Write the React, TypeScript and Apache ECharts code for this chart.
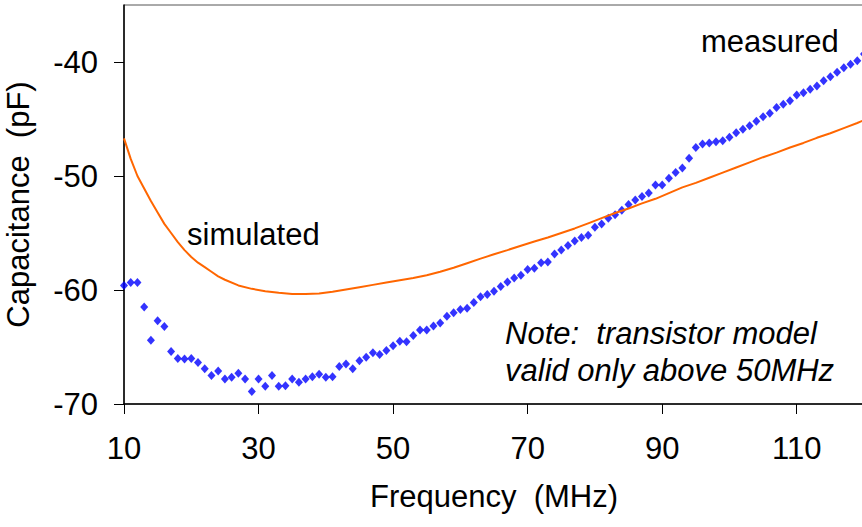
import React, { useEffect, useRef } from "react";
import * as echarts from "echarts";

const xTickValues = [10, 30, 50, 70, 90, 110];
const yTickValues = [-70, -60, -50, -40];

const simFreq = [10, 11, 12, 13, 14, 15, 16, 17, 18, 19, 20, 21, 22, 23, 24, 25, 27, 29, 31, 33, 35, 37, 39, 41, 43, 45, 47, 49, 51, 53, 55, 57, 59, 61, 63, 65, 67, 69, 71, 73, 75, 77, 79, 81, 83, 85, 87, 89, 91, 93, 95, 97, 99, 101, 103, 105, 107, 109, 111, 113, 115, 117, 119, 120];
const simCap = [-46.7, -48.5, -50.0, -51.1, -52.2, -53.2, -54.2, -55.0, -55.8, -56.5, -57.1, -57.6, -58.0, -58.4, -58.8, -59.1, -59.6, -59.9, -60.1, -60.25, -60.35, -60.35, -60.3, -60.15, -59.95, -59.75, -59.55, -59.35, -59.15, -58.95, -58.7, -58.4, -58.05, -57.65, -57.25, -56.87, -56.5, -56.12, -55.75, -55.4, -55.0, -54.6, -54.15, -53.7, -53.25, -52.85, -52.4, -52.0, -51.5, -51.0, -50.6, -50.15, -49.7, -49.25, -48.8, -48.35, -47.95, -47.5, -47.1, -46.65, -46.25, -45.8, -45.35, -45.1];

const measFreq = [10, 11, 12, 13, 14, 15, 16, 17, 18, 19, 20, 21, 22, 23, 24, 25, 26, 27, 28, 29, 30, 31, 32, 33, 34, 35, 36, 37, 38, 39, 40, 41, 42, 43, 44, 45, 46, 47, 48, 49, 50, 51, 52, 53, 54, 55, 56, 57, 58, 59, 60, 61, 62, 63, 64, 65, 66, 67, 68, 69, 70, 71, 72, 73, 74, 75, 76, 77, 78, 79, 80, 81, 82, 83, 84, 85, 86, 87, 88, 89, 90, 91, 92, 93, 94, 95, 96, 97, 98, 99, 100, 101, 102, 103, 104, 105, 106, 107, 108, 109, 110, 111, 112, 113, 114, 115, 116, 117, 118, 119, 120];
const measCap = [-59.6, -59.35, -59.35, -61.5, -64.4, -62.7, -63.2, -65.4, -66.0, -66.05, -66.0, -66.35, -66.9, -67.5, -67.1, -67.8, -67.65, -67.3, -67.8, -68.9, -67.8, -68.45, -67.5, -68.45, -68.4, -67.8, -68.1, -67.8, -67.6, -67.4, -67.65, -67.6, -66.7, -66.5, -66.9, -66.2, -65.9, -65.5, -65.65, -65.3, -64.9, -64.5, -64.55, -64.0, -63.5, -63.5, -63.15, -62.9, -62.3, -62.0, -61.7, -61.6, -61.1, -60.6, -60.4, -60.1, -59.7, -59.3, -58.95, -58.7, -58.2, -58.1, -57.6, -57.55, -56.85, -56.5, -56.1, -55.7, -55.4, -55.2, -54.5, -54.2, -53.7, -53.4, -53.0, -52.5, -52.1, -51.8, -51.5, -50.8, -50.8, -50.2, -49.7, -49.3, -48.45, -47.5, -47.2, -47.1, -47.0, -46.9, -46.6, -46.2, -45.9, -45.6, -45.2, -44.8, -44.5, -44.0, -43.7, -43.4, -42.9, -42.7, -42.4, -42.1, -41.65, -41.3, -40.9, -40.5, -40.2, -39.9, -39.3];

const FONT = "'Liberation Sans', Arial, sans-serif";
const FS = 31;

export default function App() {
  const ref = useRef<HTMLDivElement>(null);
  useEffect(() => {
    if (!ref.current) return;
    const chart = echarts.init(ref.current, null, { renderer: "svg" });
    const simData = simFreq.map((f, i) => [f, simCap[i]]);
    const measData = measFreq.map((f, i) => [f, measCap[i]]);
    chart.setOption({
      animation: false,
      backgroundColor: "#ffffff",
      grid: {
        left: 124,
        top: 5,
        right: -2,
        bottom: 123,
        containLabel: false,
        outerBoundsMode: "none",
        show: true,
        borderColor: "#555",
        borderWidth: 1,
        backgroundColor: "transparent",
      },
      xAxis: {
        type: "value",
        min: 10,
        max: 120,
        name: "Frequency  (MHz)",
        nameLocation: "middle",
        nameGap: 77,
        nameTextStyle: { fontSize: FS, color: "#000", fontFamily: FONT },
        axisLine: { show: true, onZero: false, lineStyle: { color: "#000", width: 1.5 } },
        axisTick: { show: true, length: 10, customValues: xTickValues, lineStyle: { color: "#000", width: 1 } },
        axisLabel: { customValues: xTickValues, fontSize: FS, color: "#000", fontFamily: FONT, margin: 29 },
        splitLine: { show: false },
      },
      yAxis: {
        type: "value",
        min: -70,
        max: -35,
        name: "Capacitance  (pF)",
        nameLocation: "middle",
        nameGap: 90,
        nameTextStyle: { fontSize: FS, color: "#000", fontFamily: FONT },
        axisLine: { show: true, onZero: false, lineStyle: { color: "#000", width: 1.5 } },
        axisTick: { show: true, length: 10, customValues: yTickValues, lineStyle: { color: "#000", width: 1 } },
        axisLabel: { customValues: yTickValues, fontSize: FS, color: "#000", fontFamily: FONT, margin: 26 },
        splitLine: { show: false },
      },
      series: [
        {
          name: "simulated",
          type: "line",
          data: simData,
          showSymbol: false,
          lineStyle: { color: "#FF6600", width: 2 },
          itemStyle: { color: "#FF6600" },
        },
        {
          name: "measured",
          type: "scatter",
          data: measData,
          symbol: "diamond",
          symbolSize: [8, 9],
          itemStyle: { color: "#0000FF" },
        },
      ],
      graphic: [
        { type: "text", left: 187, top: 219, style: { text: "simulated", fontSize: FS, fontFamily: FONT, fill: "#000" } },
        { type: "text", left: 701, top: 26, style: { text: "measured", fontSize: FS, fontFamily: FONT, fill: "#000" } },
        { type: "text", left: 505, top: 318, style: { text: "Note:  transistor model", fontSize: FS, fontStyle: "italic", fontFamily: FONT, fill: "#000" } },
        { type: "text", left: 505, top: 355, style: { text: "valid only above 50MHz", fontSize: FS, fontStyle: "italic", fontFamily: FONT, fill: "#000" } },
      ],
    });
    return () => chart.dispose();
  }, []);
  return <div ref={ref} style={{ position: "fixed", left: 0, top: 0, width: 862, height: 527 }} />;
}
